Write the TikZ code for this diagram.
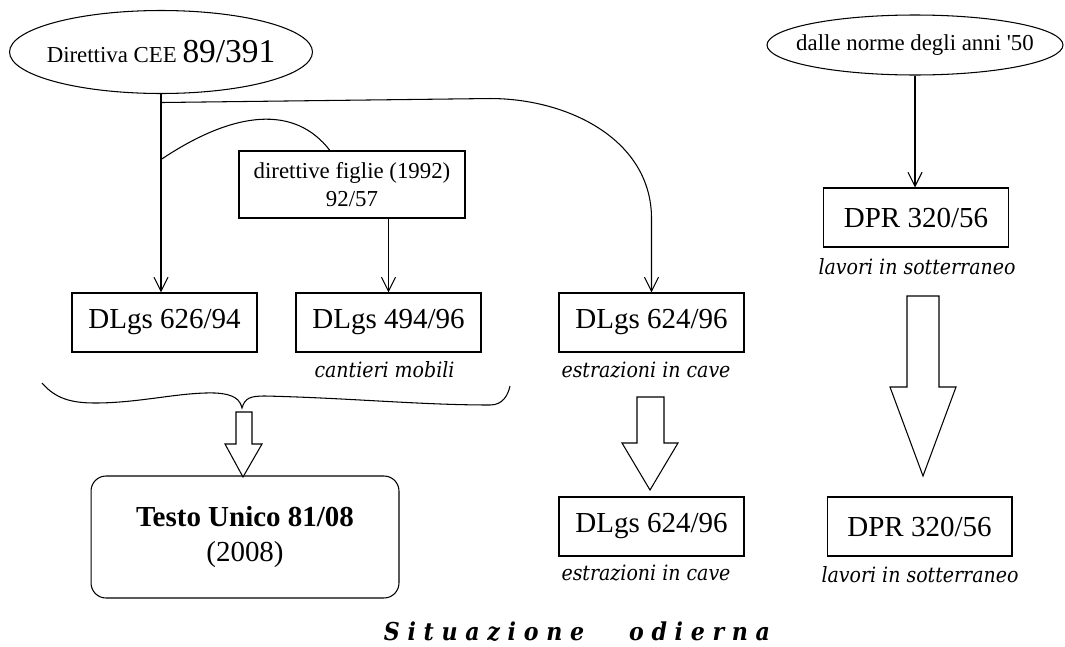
\documentclass[tikz,border=0pt]{standalone}
\usepackage{fontspec}
\setmainfont{Liberation Serif}
\newfontfamily\notefont{DejaVu Serif Condensed}
\usetikzlibrary{arrows.meta,shapes.geometric}

\tikzset{
  box/.style={draw, line width=0.6pt, minimum width=3.7cm, minimum height=1.18cm,
    inner sep=0pt, font=\fontsize{16.5}{18}\selectfont},
  oval/.style={draw, ellipse, line width=0.6pt, inner ysep=0pt, inner xsep=-12pt},
  note/.style={font=\notefont\itshape\fontsize{12}{14}\selectfont},
  link/.style={line width=0.6pt},
  arr/.style={line width=0.6pt, -{Straight Barb[length=8pt,width=8pt]}},
  hollow/.style={draw, line width=0.6pt, line join=miter, fill=white}
}

\begin{document}
\begin{tikzpicture}[x=0.02cm,y=-0.02cm]
  \useasboundingbox (0,0) rectangle (1065,646);

  % sources
  \node[oval, minimum width=6.06cm, minimum height=1.66cm] (cee) at (161,52)
    {\fontsize{13}{15}\selectfont Direttiva CEE \fontsize{19}{21}\selectfont 89/391};
  \node[oval, minimum width=5.92cm, minimum height=1.2cm] (norme) at (915,45)
    {\fontsize{13}{15}\selectfont dalle norme degli anni \textquotesingle 50};
  \node[box, minimum width=4.52cm, minimum height=1.34cm, align=center,
    font=\fontsize{13}{16}\selectfont] (figlie) at (352,184.5)
    {direttive figlie (1992)\\92/57};

  % decreti
  \node[box] (b626) at (164.5,322.5) {DLgs 626/94};
  \node[box] (b494) at (388.5,322.5) {DLgs 494/96};
  \node[box] (b624) at (651.5,322.5) {DLgs 624/96};
  \node[box] (dpr) at (916,217.5) {DPR 320/56};
  \node[box] (b624n) at (651.5,526.5) {DLgs 624/96};
  \node[box] (dprn) at (919.5,526.5) {DPR 320/56};
  \node[box, rounded corners=0.3cm, minimum width=6.16cm, minimum height=2.44cm,
    align=center, font=\fontsize{16.5}{20}\selectfont] (testo) at (245,537)
    {\textbf{Testo Unico 81/08}\\(2008)};

  \node[note] (n494) at (384.5,370) {cantieri mobili};
  \node[note] (n624) at (646,370) {estrazioni in cave};
  \node[note] (n624n) at (646,573) {estrazioni in cave};
  \node[note] (ndpr) at (917,267) {lavori in sotterraneo};
  \node[note] (ndprn) at (920,575) {lavori in sotterraneo};

  % connectors
  \path (cee.south) ++(0,8.5) coordinate (fork1);
  \path (cee.south) ++(0,65.5) coordinate (fork2);
  \draw[arr] (cee.south) -- (cee.south |- b626.north);
  \draw[arr] (fork1) -- ++(329,-4) to[out=0,in=90] ++(161.5,120) -- (b624.north);
  \draw[link] (fork2) .. controls (235,110) and (295,105) .. (figlie.123);
  \draw[arr] (figlie.south -| b494.north) -- (b494.north);
  \draw[arr] (norme.south) -- (norme.south |- dpr.north);

  % graffa
  \draw[link] (42,383) .. controls (55,398) and (70,403) .. (95,403)
    .. controls (140,403) and (180,392) .. (215,393)
    .. controls (235,394) and (240,400) .. (242,408)
    .. controls (245,398) and (250,396) .. (265,396)
    .. controls (350,398) and (420,405) .. (490,405)
    .. controls (503,405) and (508,395) .. (510,386);

  % frecce
  \draw[hollow] (236,412) -- (252,412) -- (252,444) -- (262,444) -- (243,477)
    -- (225,444) -- (236,444) -- cycle;
  \draw[hollow] (637,397) -- (664,397) -- (664,443) -- (678,443) -- (650,490)
    -- (622,443) -- (637,443) -- cycle;
  \draw[hollow] (907,296) -- (939,296) -- (939,387) -- (956,387) -- (923,476)
    -- (890,387) -- (907,387) -- cycle;

  \node[font=\notefont\bfseries\itshape\fontsize{14}{16}\selectfont] (title) at (577,632)
    {S i t u a z i o n e \hspace{1.2em} o d i e r n a};
\end{tikzpicture}
\end{document}
